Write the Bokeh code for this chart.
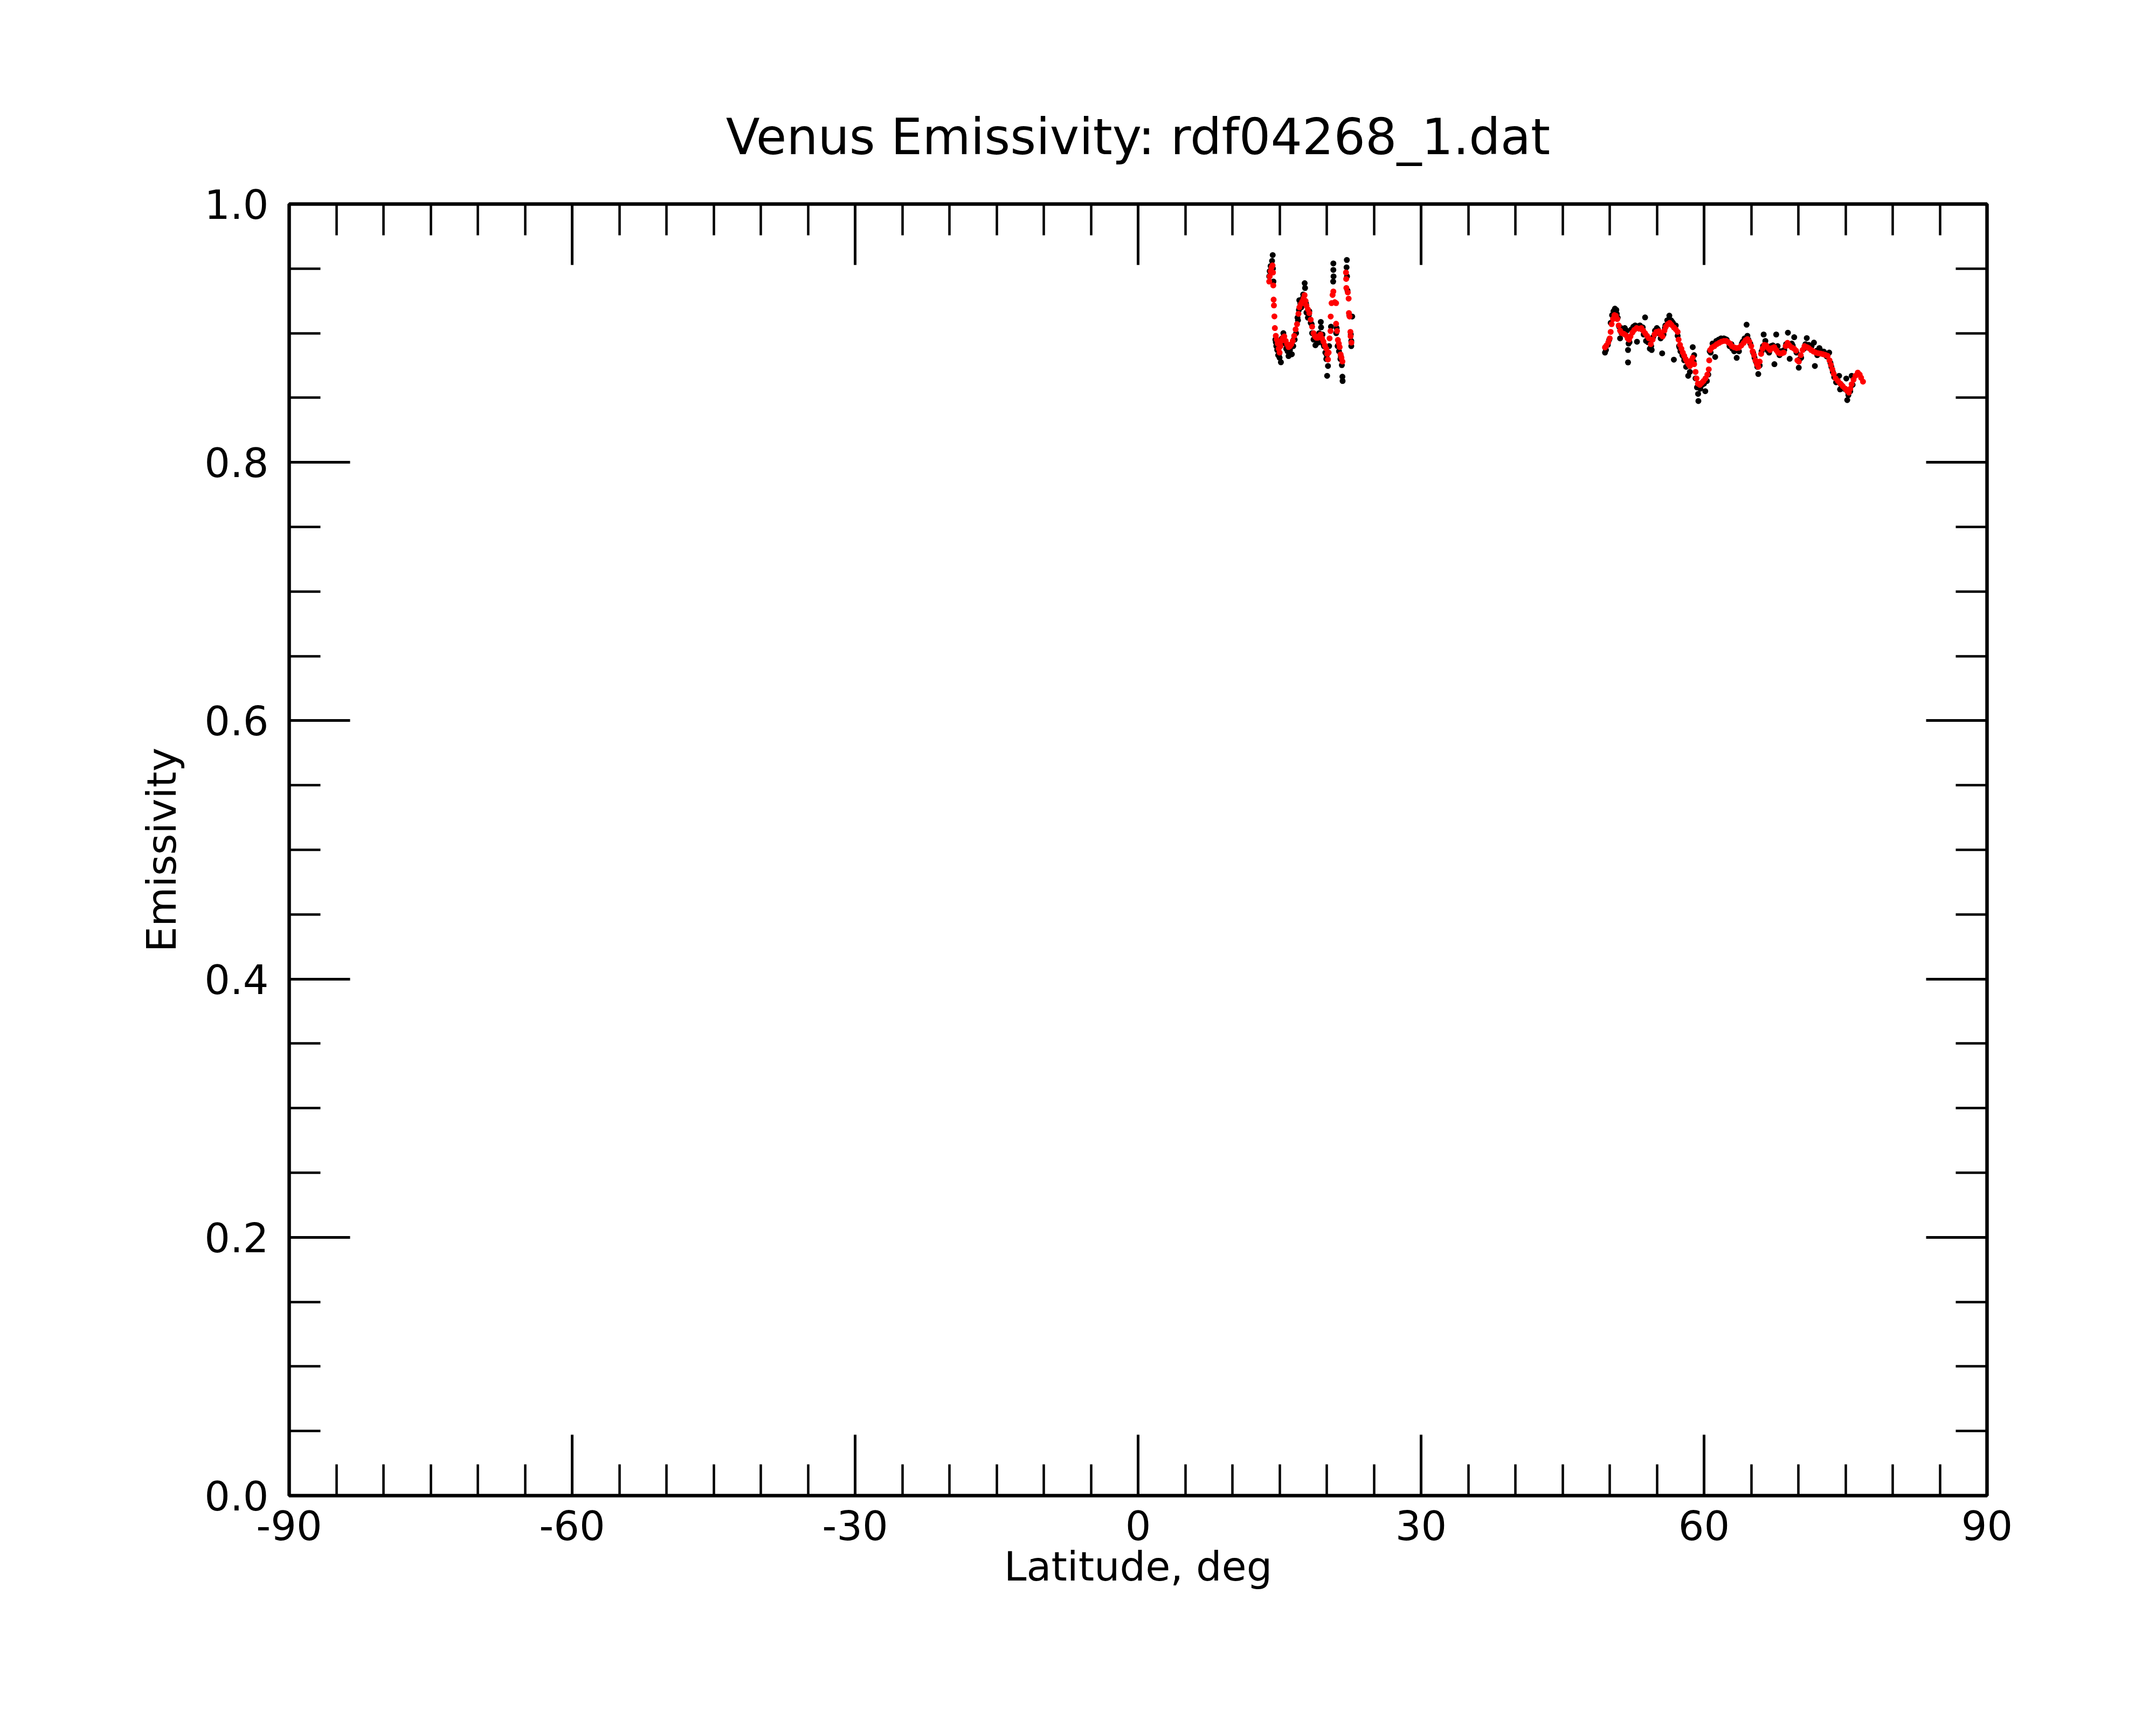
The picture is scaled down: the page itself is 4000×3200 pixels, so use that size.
from bokeh.plotting import figure
from bokeh.models import Range1d, LinearAxis, FixedTicker, PrintfTickFormatter
from bokeh.embed import file_html
from bokeh.resources import INLINE

TITLE = "Venus Emissivity: rdf04268_1.dat"
X_LABEL = "Latitude, deg"
Y_LABEL = "Emissivity"

x_major = [-90, -60, -30, 0, 30, 60, 90]
x_minor = [-90, -85, -80, -75, -70, -65, -60, -55, -50, -45, -40, -35, -30, -25, -20, -15, -10, -5,
           0, 5, 10, 15, 20, 25, 30, 35, 40, 45, 50, 55, 60, 65, 70, 75, 80, 85, 90]
y_major = [0.0, 0.2, 0.4, 0.6, 0.8, 1.0]
y_minor = [0.0, 0.05, 0.1, 0.15, 0.2, 0.25, 0.3, 0.35, 0.4, 0.45, 0.5, 0.55, 0.6, 0.65, 0.7,
           0.75, 0.8, 0.85, 0.9, 0.95, 1.0]

# raw emissivity (black dots), northern tracks
raw1_lat = [13.90, 13.95, 14.05, 14.20, 14.27, 14.30, 14.35, 14.55, 14.65, 14.75, 14.85, 15.00, 15.14,
            15.25, 15.40, 15.55, 15.70, 15.85, 15.95, 16.10, 16.30, 16.45, 16.60, 16.75, 16.90, 17.05,
            17.09, 17.30, 17.50, 17.66, 17.70, 17.85, 18.00, 18.15, 18.30, 18.45, 18.60, 18.80, 18.95,
            19.09, 19.20, 19.37, 19.40, 19.55, 19.70, 19.85, 19.95, 20.04, 20.13, 20.25, 20.70, 20.70,
            20.72, 20.68, 20.45, 21.00, 21.15, 21.30, 21.45, 21.60, 21.66, 21.68, 22.13, 22.10, 22.15,
            22.70, 22.55, 22.60,
            14.60, 14.95, 15.30, 15.60, 16.05, 16.50, 16.95, 17.20, 17.45, 17.80, 18.10, 18.40, 18.70,
            19.15, 19.60, 20.00, 21.05, 21.25, 21.50, 22.20, 22.40, 22.60]
raw1_e = [0.9440, 0.9480, 0.9520, 0.9560, 0.9605, 0.9500, 0.9400, 0.8950, 0.8900, 0.8870, 0.8830, 0.8810,
          0.8775, 0.8960, 0.9000, 0.8930, 0.8880, 0.8860, 0.8823, 0.8870, 0.8837, 0.8900, 0.8950, 0.9000,
          0.9120, 0.9180, 0.9255, 0.9200, 0.9300, 0.9387, 0.9350, 0.9160, 0.9120, 0.9170, 0.9080, 0.9000,
          0.8950, 0.8907, 0.8940, 0.8927, 0.9000, 0.9087, 0.9045, 0.8990, 0.8900, 0.8850, 0.8800, 0.8670,
          0.8746, 0.8900, 0.9540, 0.9490, 0.9440, 0.9400, 0.9050, 0.9000, 0.8900, 0.8860, 0.8800, 0.8753,
          0.8663, 0.8630, 0.9567, 0.9510, 0.9440, 0.9129, 0.8990, 0.8900,
          0.8930, 0.8840, 0.8950, 0.8920, 0.8880, 0.8950, 0.9100, 0.9230, 0.9270, 0.9230, 0.9140, 0.9070,
          0.8960, 0.8950, 0.8920, 0.8830, 0.9040, 0.8910, 0.8820, 0.9330, 0.9140, 0.8940]
raw2_lat = [49.50, 49.60, 49.80, 49.95, 50.10, 50.25, 50.40, 50.55, 50.70, 50.85, 51.00, 51.10, 51.25,
            51.40, 51.60, 51.80, 51.94, 51.94, 52.10, 52.30, 52.50, 52.70, 52.89, 53.00, 53.20, 53.40,
            53.60, 53.75, 53.85, 54.05, 54.25, 54.45, 54.60, 54.80, 55.00, 55.20, 55.40, 55.56, 55.70,
            55.90, 56.10, 56.32, 56.50, 56.70, 56.80, 57.00, 57.20, 57.35, 57.50, 57.70, 57.90, 58.10,
            58.32, 58.50, 58.80, 58.95, 59.10, 59.25, 59.37, 59.40, 59.60, 59.80, 60.13, 60.30, 60.45,
            60.70, 60.90, 61.18, 61.30, 61.55, 61.80, 62.10, 62.40, 62.70, 63.00, 63.20, 63.46, 63.70,
            64.00, 64.30, 64.51, 64.60, 64.90, 65.20, 65.50, 65.75, 65.90, 66.10, 66.32, 66.50, 66.70,
            66.90, 67.10, 67.46, 67.65, 67.80, 68.00, 68.20, 68.50, 68.89, 69.08, 69.30, 69.56, 69.80,
            70.04, 70.30, 70.60, 70.89, 71.10, 71.40, 71.65, 71.75, 72.00, 72.23, 72.50, 72.70, 73.00,
            73.27, 73.50, 73.80, 74.00, 74.32, 74.42, 74.70, 75.08, 75.18, 75.30, 75.50, 75.65,
            50.45, 50.75, 51.20, 51.55, 52.00, 52.55, 53.05, 53.50, 54.20, 54.40, 55.10, 55.85, 56.25,
            56.60, 57.40, 57.80, 58.00, 58.60, 58.90, 59.50, 60.00, 60.60, 61.00, 61.70, 62.25, 62.90,
            63.60, 64.10, 64.70, 65.35, 65.65, 66.25, 66.85, 67.30, 68.10, 68.70, 69.40, 70.15, 70.75,
            71.25, 71.95, 72.45, 72.95, 73.40, 73.65, 74.10, 74.55, 74.85, 75.25, 75.45, 75.75]
raw2_e = [0.8850, 0.8870, 0.8910, 0.8950, 0.9080, 0.9140, 0.9170, 0.9190, 0.9180, 0.9120, 0.9050, 0.8960,
          0.9000, 0.9020, 0.9040, 0.9020, 0.8870, 0.8774, 0.8930, 0.9030, 0.9050, 0.9060, 0.8934, 0.9050,
          0.9060, 0.9030, 0.8990, 0.9122, 0.8940, 0.8930, 0.8880, 0.8870, 0.8970, 0.9020, 0.9040, 0.9000,
          0.8960, 0.8844, 0.8990, 0.9060, 0.9100, 0.9136, 0.9100, 0.9080, 0.8795, 0.9060, 0.8980, 0.8900,
          0.8860, 0.8830, 0.8790, 0.8740, 0.8670, 0.8700, 0.8892, 0.8830, 0.8650, 0.8580, 0.8530, 0.8475,
          0.8570, 0.8600, 0.8551, 0.8630, 0.8680, 0.8850, 0.8920, 0.8816, 0.8940, 0.8950, 0.8960, 0.8960,
          0.8950, 0.8900, 0.8880, 0.8860, 0.8809, 0.8860, 0.8920, 0.8960, 0.9066, 0.8980, 0.8920, 0.8850,
          0.8780, 0.8684, 0.8750, 0.8860, 0.8990, 0.8940, 0.8870, 0.8850, 0.8900, 0.8760, 0.8990, 0.8900,
          0.8830, 0.8860, 0.8870, 0.9004, 0.8802, 0.8920, 0.8969, 0.8850, 0.8733, 0.8810, 0.8880, 0.8962,
          0.8910, 0.8900, 0.8927, 0.8746, 0.8830, 0.8885, 0.8860, 0.8857, 0.8820, 0.8850, 0.8740, 0.8660,
          0.8620, 0.8670, 0.8565, 0.8580, 0.8649, 0.8482, 0.8520, 0.8550, 0.8670,
          0.9160, 0.9150, 0.9040, 0.9010, 0.8920, 0.9045, 0.9055, 0.9045, 0.8940, 0.8900, 0.9030, 0.9040,
          0.9095, 0.9090, 0.8890, 0.8820, 0.8790, 0.8760, 0.8780, 0.8590, 0.8610, 0.8860, 0.8910, 0.8945,
          0.8955, 0.8915, 0.8875, 0.8935, 0.8950, 0.8810, 0.8740, 0.8900, 0.8875, 0.8905, 0.8860, 0.8915,
          0.8905, 0.8800, 0.8915, 0.8895, 0.8865, 0.8855, 0.8840, 0.8770, 0.8700, 0.8635, 0.8600, 0.8570,
          0.8545, 0.8560, 0.8600]

# smoothed emissivity (red dots)
fit1_lat = [13.90, 13.95, 14.05, 14.15, 14.25, 14.30, 14.33, 14.37, 14.40, 14.45, 14.50, 14.60, 14.70,
            14.80, 14.90, 15.00, 15.10, 15.20, 15.35, 15.50, 15.65, 15.80, 15.95, 16.10, 16.25, 16.40,
            16.55, 16.70, 16.85, 17.00, 17.10, 17.25, 17.40, 17.55, 17.65, 17.75, 17.85, 18.00, 18.15,
            18.30, 18.45, 18.60, 18.75, 18.90, 19.05, 19.20, 19.35, 19.50, 19.65, 19.80, 19.95, 20.05,
            20.13, 20.20, 20.30, 20.40, 20.42, 20.51, 20.62, 20.70, 20.85, 20.99, 20.99, 21.09, 21.18,
            21.28, 21.37, 21.47, 21.56, 21.66, 22.04, 22.06, 22.08, 22.23, 22.32, 22.35, 22.42, 22.51,
            22.53, 22.61]
fit1_e = [0.9400, 0.9440, 0.9480, 0.9510, 0.9525, 0.9470, 0.9370, 0.9260, 0.9215, 0.9130, 0.9040, 0.8980,
          0.8950, 0.8920, 0.8880, 0.8850, 0.8900, 0.8940, 0.8965, 0.8975, 0.8940, 0.8915, 0.8893, 0.8900,
          0.8915, 0.8940, 0.8980, 0.9030, 0.9070, 0.9150, 0.9200, 0.9225, 0.9245, 0.9270, 0.9295, 0.9250,
          0.9213, 0.9185, 0.9155, 0.9105, 0.9050, 0.9000, 0.8975, 0.8965, 0.8965, 0.8980, 0.8990, 0.8960,
          0.8935, 0.8905, 0.8880, 0.8840, 0.8796, 0.8850, 0.8960, 0.9017, 0.9129, 0.9233, 0.9296, 0.9323,
          0.9240, 0.9233, 0.9073, 0.9017, 0.8948, 0.8920, 0.8892, 0.8836, 0.8810, 0.8781, 0.9470, 0.9420,
          0.9350, 0.9316, 0.9268, 0.9156, 0.9129, 0.9010, 0.8976, 0.8927]
fit2_lat = [49.50, 49.65, 49.85, 50.00, 50.10, 50.20, 50.35, 50.50, 50.65, 50.80, 50.95, 51.10, 51.30,
            51.50, 51.70, 51.90, 52.05, 52.20, 52.40, 52.60, 52.85, 53.10, 53.35, 53.55, 53.75, 53.95,
            54.15, 54.35, 54.55, 54.75, 54.95, 55.20, 55.40, 55.60, 55.80, 55.95, 56.15, 56.35, 56.55,
            56.80, 57.00, 57.20, 57.30, 57.45, 57.60, 57.75, 57.90, 58.05, 58.20, 58.35, 58.50, 58.65,
            58.80, 58.95, 59.10, 59.20, 59.35, 59.55, 59.75, 59.95, 60.15, 60.35, 60.50, 60.55, 60.65,
            60.85, 61.10, 61.35, 61.60, 61.85, 62.10, 62.35, 62.55, 62.75, 62.95, 63.20, 63.45, 63.70,
            63.95, 64.20, 64.40, 64.60, 64.80, 65.00, 65.15, 65.30, 65.45, 65.60, 65.75, 65.90, 66.05,
            66.20, 66.40, 66.60, 66.80, 67.00, 67.20, 67.45, 67.65, 67.85, 68.05, 68.25, 68.45, 68.65,
            68.85, 69.05, 69.30, 69.55, 69.75, 69.90, 70.05, 70.25, 70.45, 70.65, 70.90, 71.10, 71.35,
            71.60, 71.85, 72.10, 72.35, 72.60, 72.85, 73.10, 73.30, 73.45, 73.60, 73.75, 73.95, 74.20,
            74.45, 74.70, 74.95, 75.15, 75.35, 75.50, 75.65, 75.85, 76.05, 76.30, 76.50, 76.65, 76.85]
fit2_e = [0.8890, 0.8905, 0.8930, 0.8960, 0.9010, 0.9070, 0.9110, 0.9140, 0.9135, 0.9110, 0.9060, 0.9020,
          0.9000, 0.8995, 0.8985, 0.8960, 0.8950, 0.8975, 0.9005, 0.9025, 0.9040, 0.9035, 0.9040, 0.9020,
          0.9000, 0.8980, 0.8960, 0.8915, 0.8950, 0.8990, 0.9010, 0.9015, 0.8990, 0.8975, 0.9020, 0.9050,
          0.9070, 0.9080, 0.9065, 0.9045, 0.9030, 0.9010, 0.8950, 0.8910, 0.8880, 0.8850, 0.8825, 0.8800,
          0.8780, 0.8760, 0.8745, 0.8790, 0.8810, 0.8760, 0.8700, 0.8650, 0.8610, 0.8600, 0.8615, 0.8630,
          0.8650, 0.8680, 0.8720, 0.8790, 0.8870, 0.8890, 0.8900, 0.8915, 0.8925, 0.8935, 0.8940, 0.8940,
          0.8930, 0.8920, 0.8900, 0.8890, 0.8885, 0.8888, 0.8905, 0.8925, 0.8945, 0.8955, 0.8935, 0.8900,
          0.8860, 0.8830, 0.8790, 0.8760, 0.8740, 0.8780, 0.8840, 0.8880, 0.8910, 0.8905, 0.8885, 0.8870,
          0.8885, 0.8892, 0.8870, 0.8850, 0.8843, 0.8845, 0.8850, 0.8900, 0.8925, 0.8905, 0.8890, 0.8880,
          0.8865, 0.8790, 0.8780, 0.8830, 0.8870, 0.8900, 0.8892, 0.8885, 0.8870, 0.8858, 0.8850, 0.8845,
          0.8842, 0.8838, 0.8832, 0.8825, 0.8790, 0.8755, 0.8720, 0.8685, 0.8650, 0.8630, 0.8610, 0.8590,
          0.8572, 0.8555, 0.8540, 0.8570, 0.8605, 0.8640, 0.8670, 0.8695, 0.8680, 0.8655, 0.8625]

FONT = "DejaVu Sans"

p = figure(frame_width=3150, frame_height=2396,
           x_range=Range1d(-90, 90), y_range=Range1d(0, 1),
           output_backend="svg", toolbar_location=None,
           min_border_left=536, min_border_right=298,
           min_border_top=378, min_border_bottom=410,
           background_fill_color="white", border_fill_color="white")
p.xgrid.visible = False
p.ygrid.visible = False
p.outline_line_color = "black"
p.outline_line_width = 6

p.title.text = TITLE
p.title.align = "center"
p.title.text_font = FONT
p.title.text_font_size = "92px"
p.title.text_font_style = "normal"
p.title.text_color = "black"
p.title.standoff = 142


def style_axis(ax, major, minor, show_labels):
    ax.ticker = FixedTicker(ticks=major, minor_ticks=minor)
    ax.major_tick_in = 113
    ax.major_tick_out = 0
    ax.minor_tick_in = 58
    ax.minor_tick_out = 0
    ax.major_tick_line_width = 5
    ax.minor_tick_line_width = 4.5
    ax.major_tick_line_color = "black"
    ax.minor_tick_line_color = "black"
    ax.axis_line_width = 6
    ax.axis_line_color = "black"
    ax.major_label_text_font = FONT
    ax.major_label_text_font_size = "75px"
    ax.major_label_text_color = "black"
    ax.axis_label_text_font = FONT
    ax.axis_label_text_font_size = "75px"
    ax.axis_label_text_font_style = "normal"
    ax.axis_label_text_color = "black"
    if not show_labels:
        ax.major_label_overrides = {t: "" for t in major}
        ax.major_label_standoff = 0


xa = p.xaxis[0]
style_axis(xa, x_major, x_minor, True)
xa.formatter = PrintfTickFormatter(format="%d")
xa.axis_label = X_LABEL
xa.major_label_standoff = 27
xa.axis_label_standoff = 2

ya = p.yaxis[0]
style_axis(ya, y_major, y_minor, True)
ya.formatter = PrintfTickFormatter(format="%.1f")
ya.axis_label = Y_LABEL
ya.major_label_standoff = 38
ya.axis_label_standoff = 32

top = LinearAxis()
style_axis(top, x_major, x_minor, False)
p.add_layout(top, "above")
right = LinearAxis()
style_axis(right, y_major, y_minor, False)
p.add_layout(right, "right")

raw_lat = raw1_lat + raw2_lat
raw_e = raw1_e + raw2_e
fit_lat = fit1_lat + fit2_lat
fit_e = fit1_e + fit2_e

p.scatter(raw_lat, raw_e, size=11, fill_color="black", line_color=None)
p.scatter(fit_lat, fit_e, size=11, fill_color="red", line_color=None)

open("out.html", "w").write(file_html(p, INLINE))
